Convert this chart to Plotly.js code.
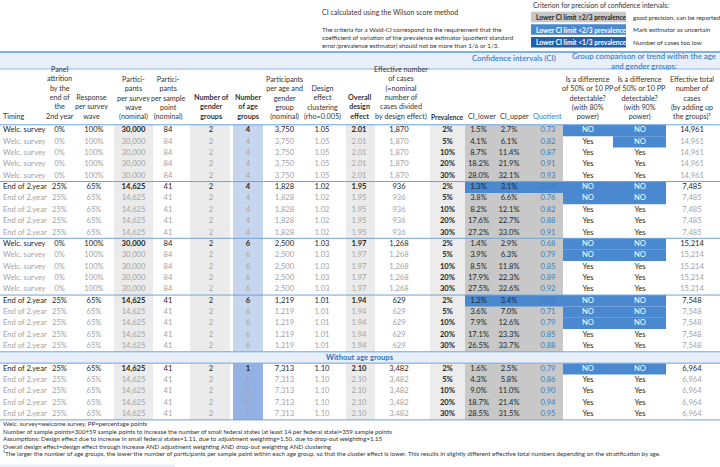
<!DOCTYPE html>
<html><head><meta charset="utf-8">
<script src="https://cdn.plot.ly/plotly-3.0.1.min.js"></script>
<style>html,body{margin:0;padding:0;background:#fff}#chart{width:720px;height:467px}</style>
</head><body><div id="chart"></div>
<script>
// ---------------- data ----------------
const timing = ["Welc. survey","End of 2.year","Welc. survey","End of 2.year","End of 2.year"];
const attrition = ["0%","25%","0%","25%","25%"];
const response = ["100%","65%","100%","65%","65%"];
const partWave = ["30,000","14,625","30,000","14,625","14,625"];
const perPoint = ["84","41","84","41","41"];
const genderGroups = ["2","2","2","2","2"];
const ageGroups = ["4","4","6","6","1"];
const perGroup = ["3,750","1,828","2,500","1,219","7,313"];
const deffClust = ["1.05","1.02","1.03","1.01","1.10"];
const deffOverall = ["2.01","1.95","1.97","1.94","2.10"];
const effCases = ["1,870","936","1,268","629","3,482"];
const prevalence = [2,5,10,20,30];
const ciLower = [[1.5,4.1,8.7,18.2,28.0],[1.3,3.8,8.2,17.6,27.2],[1.4,3.9,8.5,17.9,27.5],[1.2,3.6,7.9,17.1,26.5],[1.6,4.3,9.0,18.7,28.5]];
const ciUpper = [[2.7,6.1,11.4,21.9,32.1],[3.1,6.6,12.1,22.7,33.0],[2.9,6.3,11.8,22.3,32.6],[3.4,7.0,12.6,23.3,33.7],[2.5,5.8,11.0,21.4,31.5]];
const quotient = [[0.73,0.82,0.87,0.91,0.93],[0.64,0.76,0.82,0.88,0.91],[0.68,0.79,0.85,0.89,0.92],[0.58,0.71,0.79,0.85,0.88],[0.79,0.86,0.90,0.94,0.95]];
const power80 = [["NO","Yes","Yes","Yes","Yes"],["NO","NO","Yes","Yes","Yes"],["NO","NO","Yes","Yes","Yes"],["NO","NO","NO","Yes","Yes"],["NO","Yes","Yes","Yes","Yes"]];
const power90 = [["NO","NO","Yes","Yes","Yes"],["NO","NO","Yes","Yes","Yes"],["NO","NO","Yes","Yes","Yes"],["NO","NO","NO","Yes","Yes"],["NO","Yes","Yes","Yes","Yes"]];
const totalCases = ["14,961","7,485","15,214","7,548","6,964"];

const headers = [
 "Timing",
 "Panel<br>attrition<br>by the<br>end of<br>the<br>2nd year",
 "Response<br>per survey<br>wave",
 "Partici-<br>pants<br>per survey<br>wave<br>(nominal)",
 "Partici-<br>pants<br>per sample<br>point<br>(nominal)",
 "<b>Number of<br>gender<br>groups</b>",
 "<b>Number<br>of age<br>groups</b>",
 "Participants<br>per age and<br>gender<br>group<br>(nominal)",
 "Design<br>effect<br>clustering<br>(rho=0.005)",
 "<b>Overall<br>design<br>effect</b>",
 "Effective number<br>of cases<br>(=nominal<br>number of<br>cases divided<br>by design effect)",
 "<b>Prevalence</b>",
 "CI_lower",
 "CI_upper",
 "Quotient",
 "Is a difference<br>of 50% or 10 PP<br>detectable?<br>(with 80%<br>power)",
 "Is a difference<br>of 50% or 10 PP<br>detectable?<br>(with 90%<br>power)",
 "Effective total<br>number of<br>cases<br>(by adding up<br>the groups)¹"
];
const footnotes = [
 "Welc. survey=welcome survey, PP=percentage points",
 "Number of sample points=300+59 sample points to increase the number of small federal states (at least 14 per federal state)=359 sample points",
 "Assumptions: Design effect due to increase in small federal states=1.11, due to adjustment weighting=1.50, due to drop-out weighting=1.15",
 "Overall design effect=design effect through increase AND adjustment weighting AND drop-out weighting AND clustering",
 "¹The larger the number of age groups, the lower the number of participants per sample point within each age group, so that the cluster effect is lower. This results in slightly different effective total numbers depending on the stratification by age."
];
const legendBoxes = ["Lower CI limit ≥2/3 prevalence","Lower CI limit <2/3 prevalence","Lower CI limit <1/3 prevalence"];
const legendTexts = ["good precision, can be reported","Mark estimator as uncertain","Number of cases too low"];

// ---------------- geometry / style ----------------
const FONT = "Lato, 'Open Sans', sans-serif";
const colEdges = [0,42,77,114,153,190,232,263,305,345,375,430,465,494,524,563,613,666,718];
const colCenters = [3,59.5,94,133.5,168,211,248,284.5,322,359,399,447.5,478.5,509,548,588,640,692];
const headCenters = [1,59.5,91,133.5,168,211,248,284.5,322,359,401,447,482,514,547,588,640,692];
const rowTop0 = 124.8, rowH = 11.35;
const blockStart = [0,5,10,15,21];
const bandRow = 20;
const DARK = "#262626", GREY = "#a3a3a3", QBLUE = "#3b7dc4", MID = "#4a88d0", DEEP = "#1f5fab", LAV = "#e9eff9", LINE = "#6da3db";
const rowC = r => rowTop0 + (r + 0.5) * rowH;
const rowT = r => rowTop0 + r * rowH;

const shapes = [];
function rect(x0,x1,y0,y1,color){shapes.push({type:'rect',xref:'x',yref:'y',x0,x1,y0,y1,fillcolor:color,line:{width:0},layer:'below'});}
function hline(y,w,color){shapes.push({type:'line',xref:'x',yref:'y',x0:0,x1:720,y0:y,y1:y,line:{color:color,width:w},layer:'above'});}

rect(0,720,52,69,LAV);
blockStart.forEach((s,b)=>{
  const y0 = rowT(s), y1 = rowT(s+5);
  rect(114,153,y0,y1,"#ebebeb");
  rect(190,230,y0,y1,"#ebebeb");
  rect(233,263,y0,y1, b===4 ? "#93b2e3" : "#c7d6ef");
  rect(346,375,y0,y1,"#ebebeb");
  rect(430,465,y0,y1,"#ececec");
  rect(465,563,y0,y1,"#c8c8c8");
  for (let i=0;i<5;i++){
    const q = quotient[b][i];
    if (q < 1/3) rect(465,563,rowT(s+i),rowT(s+i+1),DEEP);
    else if (q < 2/3) rect(465,563,rowT(s+i),rowT(s+i+1),MID);
    if (power80[b][i]==="NO") rect(colEdges[15],colEdges[16],rowT(s+i),rowT(s+i+1),MID);
    if (power90[b][i]==="NO") rect(colEdges[16],colEdges[17],rowT(s+i),rowT(s+i+1),MID);
  }
});
rect(0,720,rowT(bandRow),rowT(bandRow+1),LAV);
rect(0,175,464.5,467,LAV);
const legendColors = ["#c8c8c8",MID,DEEP];
const legendY = [17,29.5,42.2];
legendY.forEach((y,k)=>rect(531,626,y-5.3,y+5.3,legendColors[k]));
hline(52,2,"#7fb0e2");
hline(69,1,"#8cb8e6");
hline(rowTop0,1,LINE);
[5,10,15,20,21,26].forEach(r=>hline(rowT(r),1,LINE));

// ---------------- text traces ----------------
function cell(b,i,c){
  switch(c){
    case 0: return timing[b];
    case 1: return attrition[b];
    case 2: return response[b];
    case 3: return partWave[b];
    case 4: return perPoint[b];
    case 5: return genderGroups[b];
    case 6: return ageGroups[b];
    case 7: return perGroup[b];
    case 8: return deffClust[b];
    case 9: return deffOverall[b];
    case 10: return effCases[b];
    case 11: return prevalence[i]+"%";
    case 12: return ciLower[b][i].toFixed(1)+"%";
    case 13: return ciUpper[b][i].toFixed(1)+"%";
    case 14: return quotient[b][i].toFixed(2);
    case 15: return power80[b][i];
    case 16: return power90[b][i];
    case 17: return totalCases[b];
  }
}
const traces = [];
for (let c=0;c<18;c++){
  const xs=[],ys=[],ts=[],cs=[];
  blockStart.forEach((s,b)=>{
    for (let i=0;i<5;i++){
      let t = cell(b,i,c), col;
      if (c===11){ t="<b>"+t+"</b>"; col=DARK; }
      else if (c===12||c===13){ col=DARK; }
      else if (c===14){ col=QBLUE; }
      else if (c===15||c===16){ col = t==="NO" ? "#ffffff" : DARK; }
      else {
        col = i===0 ? DARK : GREY;
        if (i===0 && (c===3||c===6||c===9)) t="<b>"+t+"</b>";
      }
      xs.push(colCenters[c]); ys.push(rowC(s+i)); ts.push(t); cs.push(col);
    }
  });
  traces.push({type:'scatter',mode:'text',x:xs,y:ys,text:ts,
    textposition: c===0 ? 'middle right' : 'middle center',
    textfont:{family:FONT,size:7.6,color:cs},hoverinfo:'skip',showlegend:false,cliponaxis:false});
}

// ---------------- annotations ----------------
const ann = [];
function note(x,y,text,opt){ann.push(Object.assign({xref:'x',yref:'y',x,y,text,showarrow:false,xanchor:'left',yanchor:'middle',
  font:{family:FONT,size:7,color:"#333"}},opt||{}));}
headers.forEach((h,c)=>{
  note(headCenters[c], 123, h, {xanchor: c===0?'left':'center', yanchor:'bottom', align:'center',
    font:{family:FONT,size: c===11 ? 6.6 : 7.2, color: c===14 ? QBLUE : "#333"}});
});
note(514,57.5,"Confidence intervals (CI)",{xanchor:'center',font:{family:FONT,size:7.8,color:"#3d7fc9",weight:600}});
note(644,61,"Group comparison or trend within the age<br>and gender groups:",{xanchor:'center',align:'center',font:{family:FONT,size:7.8,color:"#3d7fc9",weight:600}});
note(360,rowC(bandRow),"<b>Without age groups</b>",{xanchor:'center',font:{family:FONT,size:7.6,color:"#2f72c0"}});
note(531,4.5,"Criterion for precision of confidence intervals:",{font:{family:FONT,size:6.8,color:"#333"}});
note(320,12,"CI calculated using the Wilson score method",{font:{family:FONT,size:7,color:"#333"}});
note(320,37.5,"The criteria for a Wald-CI correspond to the requirement that the<br>coefficient of variation of the prevalence estimator (quotient standard<br>error/prevalence estimator) should not be more than 1/6 or 1/3.",{align:'left',font:{family:FONT,size:6.3,color:"#333"}});
legendBoxes.forEach((t,k)=>{
  note(534,legendY[k],"<b>"+t+"</b>",{font:{family:FONT,size:6.6,color: k===0?"#222":"#fff"}});
  note(631,legendY[k],legendTexts[k],{font:{family:FONT,size:6.3,color:"#333"}});
});
const footY=[423.5,431,438.5,446,453.5];
footnotes.forEach((t,k)=>note(1,footY[k],t,{font:{family:FONT,size:6.2,color:"#333"}}));

const layout = {
  width:720,height:467,margin:{l:0,r:0,t:0,b:0},paper_bgcolor:'#fff',plot_bgcolor:'#fff',
  xaxis:{range:[0,720],visible:false,fixedrange:true},
  yaxis:{range:[467,0],visible:false,fixedrange:true},
  shapes:shapes,annotations:ann,hovermode:false,showlegend:false
};
Plotly.newPlot('chart',traces,layout,{staticPlot:true,displayModeBar:false});
</script></body></html>
